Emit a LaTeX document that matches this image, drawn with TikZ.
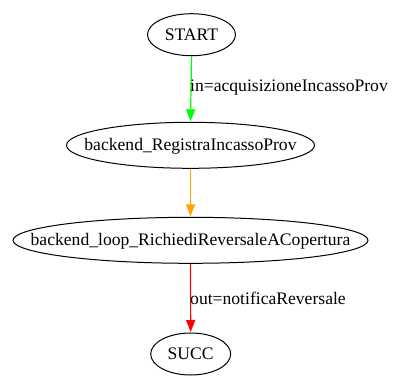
\documentclass[tikz,border=0pt]{standalone}
\usepackage{fontspec}
\setmainfont{Liberation Serif}
\usetikzlibrary{arrows.meta,shapes.geometric}
\definecolor{gvgreen}{HTML}{00FF00}
\definecolor{gvorange}{HTML}{FFA500}
\definecolor{gvred}{HTML}{FF0000}
% text that takes no room, so the ellipse keeps its given size
\newcommand{\nosizetext}[1]{\makebox[0pt]{\smash{\raisebox{-0.31em}{#1}}}}
\begin{document}
\begin{tikzpicture}[x=1bp,y=-1bp,
  state/.style={draw,ellipse,line width=1bp,inner sep=0pt,
    font=\fontsize{17.6bp}{20bp}\selectfont},
  flow/.style={line width=1.2bp,-{Triangle[length=12bp,width=9bp]},shorten >=0.5bp},
  lbl/.style={font=\fontsize{17.6bp}{20bp}\selectfont,anchor=west,inner sep=0pt}]
  \useasboundingbox (0,0) rectangle (393,376);
  \node[state,minimum width=88bp,minimum height=42bp] (start) at (191.5,34.7) {\nosizetext{START}};
  \node[state,minimum width=248bp,minimum height=46bp] (reg) at (190.5,145.3) {\nosizetext{backend\_RegistraIncassoProv}};
  \node[state,minimum width=355bp,minimum height=46bp] (loop) at (190.5,240.3) {\nosizetext{backend\_loop\_RichiediReversaleACopertura}};
  \node[state,minimum width=80bp,minimum height=42bp] (succ) at (190.7,354) {\nosizetext{SUCC}};
  \draw[flow,gvgreen] (start.south) -- (reg.north);
  \draw[flow,gvorange] (reg.south) -- (loop.north);
  \draw[flow,gvred] (loop.south) -- (succ.north);
  \node[lbl] (lin) at (190,88) {in=acquisizioneIncassoProv};
  \node[lbl] (lout) at (190,298) {out=notificaReversale};
\end{tikzpicture}
\end{document}
